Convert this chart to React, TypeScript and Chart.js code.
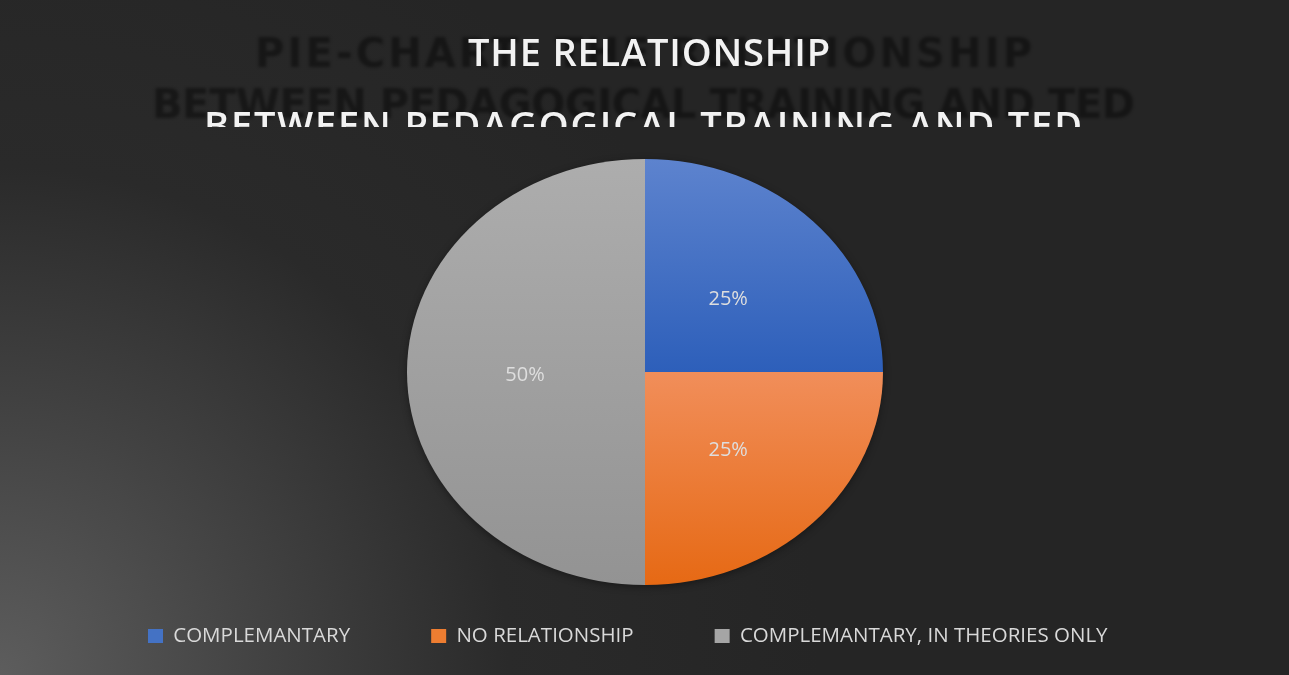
import React, { useEffect, useRef } from 'react';
import { Chart, registerables } from 'chart.js';

Chart.register(...registerables);

const categories = ['COMPLEMANTARY', 'NO RELATIONSHIP', 'COMPLEMANTARY, IN THEORIES ONLY'];
const values = [25, 25, 50];
const sliceTopColors = ['#5d83ce', '#f18e5a', '#adadad'];
const sliceBottomColors = ['#2d5fba', '#e66914', '#939393'];
const legendColors = ['#4472c4', '#ed7d31', '#a5a5a5'];
const titleLines = ['THE RELATIONSHIP', 'BETWEEN PEDAGOGICAL TRAINING AND TED'];
const ghostTitleLines = ['PIE-CHART: THE RELATIONSHIP', 'BETWEEN PEDAGOGICAL TRAINING AND TED'];

const W = 1289;
const H = 675;
const RY = 213;
const RX = 238;
const SX = RX / RY;
const FONT = "'Open Sans', 'Noto Sans', sans-serif";

function sliceYRange(i: number, cy: number, r: number): [number, number] {
  const total = values.reduce((a, b) => a + b, 0);
  let cum = 0;
  for (let k = 0; k < i; k++) cum += values[k];
  const a0 = -Math.PI / 2 + (2 * Math.PI * cum) / total;
  const a1 = a0 + (2 * Math.PI * values[i]) / total;
  const ys = [cy, cy + r * Math.sin(a0), cy + r * Math.sin(a1)];
  for (let m = -4; m <= 8; m++) {
    const a = (m * Math.PI) / 2;
    if (a > a0 && a < a1) ys.push(cy + r * Math.sin(a));
  }
  return [Math.min(...ys), Math.max(...ys)];
}

function sliceColor(context: any) {
  const i = context.dataIndex;
  const chart = context.chart;
  const area = chart.chartArea;
  if (!area) return legendColors[i];
  const cy = (area.top + area.bottom) / 2;
  const [y0, y1] = sliceYRange(i, cy, RY);
  const g = chart.ctx.createLinearGradient(0, y0, 0, y1);
  g.addColorStop(0, sliceTopColors[i]);
  g.addColorStop(1, sliceBottomColors[i]);
  return g;
}

function drawFitted(ctx: CanvasRenderingContext2D, text: string, left: number, right: number, baseline: number) {
  (ctx as any).letterSpacing = '0px';
  const w = ctx.measureText(text).width;
  const ls = (right - left - w) / (text.length - 1);
  (ctx as any).letterSpacing = ls + 'px';
  ctx.textAlign = 'left';
  ctx.textBaseline = 'alphabetic';
  ctx.fillText(text, left, baseline);
  (ctx as any).letterSpacing = '0px';
}

const backgroundPlugin = {
  id: 'bgGradient',
  beforeDraw(chart: any) {
    const ctx = chart.ctx as CanvasRenderingContext2D;
    ctx.save();
    const g = ctx.createRadialGradient(0, H, 0, 0, H, 820);
    g.addColorStop(0, '#5d5d5d');
    g.addColorStop(0.3, '#444444');
    g.addColorStop(0.62, '#2a2a2a');
    g.addColorStop(1, '#252525');
    ctx.fillStyle = g;
    ctx.fillRect(0, 0, chart.width, chart.height);
    ctx.restore();
  },
};

const ellipsePlugin = {
  id: 'ellipsePie',
  beforeDatasetsDraw(chart: any) {
    const ctx = chart.ctx as CanvasRenderingContext2D;
    const area = chart.chartArea;
    const cx = (area.left + area.right) / 2;
    const cy = (area.top + area.bottom) / 2;
    ctx.save();
    ctx.save();
    ctx.shadowColor = 'rgba(0,0,0,0.45)';
    ctx.shadowBlur = 8;
    ctx.shadowOffsetY = 2;
    ctx.fillStyle = '#262626';
    ctx.beginPath();
    ctx.ellipse(cx, cy, RX - 1, RY - 1, 0, 0, Math.PI * 2);
    ctx.fill();
    ctx.restore();
    ctx.translate(cx, 0);
    ctx.scale(SX, 1);
    ctx.translate(-cx, 0);
  },
  afterDatasetsDraw(chart: any) {
    const ctx = chart.ctx as CanvasRenderingContext2D;
    ctx.restore();
    const area = chart.chartArea;
    const cx = (area.left + area.right) / 2;
    const meta = chart.getDatasetMeta(0);
    const total = values.reduce((a, b) => a + b, 0);
    ctx.save();
    ctx.fillStyle = '#dedede';
    ctx.font = `20px ${FONT}`;
    ctx.textAlign = 'center';
    ctx.textBaseline = 'middle';
    meta.data.forEach((arc: any, i: number) => {
      const p = arc.tooltipPosition();
      const x = cx + (p.x - cx) * SX;
      ctx.fillText(Math.round((values[i] / total) * 100) + '%', x - 1, p.y + 3);
    });
    ctx.restore();
  },
};

const titlePlugin = {
  id: 'layeredTitle',
  afterDraw(chart: any) {
    const ctx = chart.ctx as CanvasRenderingContext2D;
    ctx.save();
    // ghost (shadow) title
    ctx.save();
    ctx.filter = 'blur(1.5px)';
    ctx.fillStyle = 'rgba(0,0,0,0.42)';
    ctx.font = `700 40px 'DejaVu Sans', ${FONT}`;
    drawFitted(ctx, ghostTitleLines[0], 255, 1032, 67);
    drawFitted(ctx, ghostTitleLines[1], 152, 1135, 118);
    ctx.restore();
    // white title
    ctx.fillStyle = '#f2f2f2';
    ctx.font = `600 38px ${FONT}`;
    drawFitted(ctx, titleLines[0], 468, 830, 66);
    ctx.save();
    ctx.beginPath();
    ctx.rect(0, 0, W, 127);
    ctx.clip();
    drawFitted(ctx, titleLines[1], 204, 1082, 139);
    ctx.restore();
    ctx.restore();
  },
};

export default function App() {
  const ref = useRef<HTMLCanvasElement | null>(null);
  useEffect(() => {
    if (!ref.current) return;
    const chart = new Chart(ref.current, {
      type: 'pie',
      data: {
        labels: categories,
        datasets: [
          {
            data: values,
            backgroundColor: sliceColor as any,
            borderWidth: 0,
            radius: RY,
            clip: false as any,
          } as any,
        ],
      },
      options: {
        responsive: false,
        animation: false,
        events: [],
        layout: { padding: { top: 199.25, left: 67, right: 66, bottom: 18.75 } },
        plugins: {
          tooltip: { enabled: false },
          title: { display: false },
          legend: {
            display: true,
            position: 'bottom',
            align: 'start',
            labels: {
              color: '#d9d9d9',
              font: { family: FONT, size: 20.5 },
              boxWidth: 15,
              boxHeight: 14,
              padding: 81,
              generateLabels: () =>
                categories.map((c, i) => ({
                  text: c,
                  fillStyle: legendColors[i],
                  strokeStyle: 'rgba(0,0,0,0)',
                  lineWidth: 0,
                  hidden: false,
                  index: i,
                  fontColor: '#d9d9d9',
                })),
            },
          },
        },
      },
      plugins: [backgroundPlugin, ellipsePlugin, titlePlugin],
    });
    return () => chart.destroy();
  }, []);
  return (
    <div style={{ position: 'fixed', left: 0, top: 0, width: W, height: H }}>
      <canvas ref={ref} width={W} height={H} style={{ display: 'block', width: W, height: H }} />
    </div>
  );
}
